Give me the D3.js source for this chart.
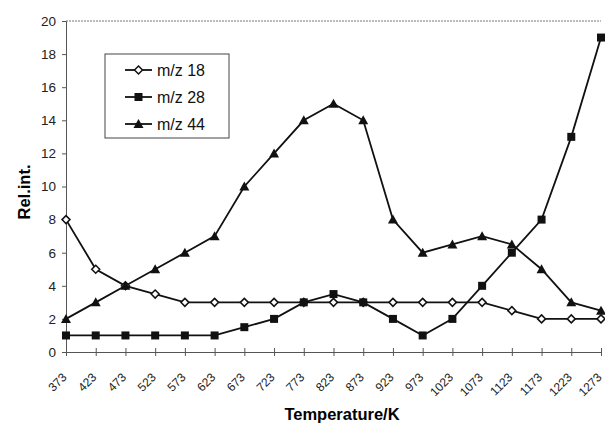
<!DOCTYPE html>
<html>
<head>
<meta charset="utf-8">
<script src="https://cdn.jsdelivr.net/npm/d3@7"></script>
<style>
  body { margin: 0; background: white; }
  text { font-family: Arial, "Liberation Sans", sans-serif; }
</style>
</head>
<body>
<div id="scene"></div>
<script>
var temps = [373, 423, 473, 523, 573, 623, 673, 723, 773, 823, 873, 923, 973, 1023, 1073, 1123, 1173, 1223, 1273];
var mz18 = [8, 5, 4, 3.5, 3, 3, 3, 3, 3, 3, 3, 3, 3, 3, 3, 2.5, 2, 2, 2];
var mz28 = [1, 1, 1, 1, 1, 1, 1.5, 2, 3, 3.5, 3, 2, 1, 2, 4, 6, 8, 13, 19];
var mz44 = [2, 3, 4, 5, 6, 7, 10, 12, 14, 15, 14, 8, 6, 6.5, 7, 6.5, 5, 3, 2.5];
var seriesNames = ["m/z 18", "m/z 28", "m/z 44"];
var yTicks = [0, 2, 4, 6, 8, 10, 12, 14, 16, 18, 20];

var ctx = { w: 605, h: 427, left: 66, right: 601, top: 21, bottom: 352 };

var svg = d3.select("#scene").append("svg")
  .attr("width", ctx.w).attr("height", ctx.h);

var x = d3.scalePoint().domain(temps).range([ctx.left, ctx.right]);
var y = d3.scaleLinear().domain([0, 20]).range([ctx.bottom, ctx.top]);

// top dotted border
svg.append("line")
  .attr("x1", ctx.left).attr("x2", ctx.right)
  .attr("y1", ctx.top).attr("y2", ctx.top)
  .attr("stroke", "#777").attr("stroke-dasharray", "2,1");

// y axis
var yAxis = svg.append("g").attr("transform", "translate(" + ctx.left + ",0)")
  .call(d3.axisLeft(y).tickValues(yTicks).tickSize(4).tickPadding(6));
yAxis.select(".domain").attr("stroke", "#555");
yAxis.selectAll(".tick line").attr("stroke", "#555");
yAxis.selectAll("text").attr("font-size", 13.5).attr("fill", "#222");

// x axis
var xAxis = svg.append("g").attr("transform", "translate(0," + ctx.bottom + ")")
  .call(d3.axisBottom(x).tickSize(0));
xAxis.select(".domain").attr("stroke", "#555");
xAxis.selectAll(".tick line").attr("y1", -4).attr("y2", 4).attr("stroke", "#555");
xAxis.selectAll("text")
  .attr("font-size", 12).attr("fill", "#222")
  .attr("text-anchor", "end")
  .attr("dy", null).attr("y", 0)
  .attr("transform", "translate(1,26) rotate(-45)");

// axis titles
svg.append("text").attr("x", 342).attr("y", 420)
  .attr("text-anchor", "middle").attr("font-weight", "bold").attr("font-size", 16.5)
  .text("Temperature/K");
svg.append("text")
  .attr("transform", "translate(30,192) rotate(-90)")
  .attr("text-anchor", "middle").attr("font-weight", "bold").attr("font-size", 16.5)
  .text("Rel.int.");

var line = d3.line().x(function(d, i) { return x(temps[i]); }).y(function(d) { return y(d); });
var allSeries = [mz18, mz28, mz44];

allSeries.forEach(function(s) {
  svg.append("path").datum(s).attr("d", line)
    .attr("fill", "none").attr("stroke", "#111").attr("stroke-width", 1.8);
});

function drawMarker(g, kind, cx, cy) {
  if (kind === 0) {
    g.append("path")
      .attr("d", "M" + cx + "," + (cy - 4) + "L" + (cx + 4) + "," + cy + "L" + cx + "," + (cy + 4) + "L" + (cx - 4) + "," + cy + "Z")
      .attr("fill", "white").attr("stroke", "#111").attr("stroke-width", 1.5);
  } else if (kind === 1) {
    g.append("rect").attr("x", cx - 4).attr("y", cy - 4).attr("width", 8).attr("height", 8)
      .attr("fill", "#111");
  } else {
    g.append("path")
      .attr("d", "M" + cx + "," + (cy - 5) + "L" + (cx + 5) + "," + (cy + 4) + "L" + (cx - 5) + "," + (cy + 4) + "Z")
      .attr("fill", "#111");
  }
}

var marks = svg.append("g");
allSeries.forEach(function(s, k) {
  s.forEach(function(v, i) { drawMarker(marks, k, x(temps[i]), y(v)); });
});

// legend
var lg = svg.append("g");
lg.append("rect").attr("x", 105).attr("y", 54).attr("width", 124).attr("height", 84)
  .attr("fill", "white").attr("stroke", "#444").attr("stroke-width", 1);
seriesNames.forEach(function(name, k) {
  var ly = 70 + k * 27;
  lg.append("line").attr("x1", 125).attr("x2", 152).attr("y1", ly).attr("y2", ly)
    .attr("stroke", "#111").attr("stroke-width", 1.8);
  drawMarker(lg, k, 138.5, ly);
  lg.append("text").attr("x", 157).attr("y", ly + 6).attr("font-size", 16).attr("fill", "#111").text(name);
});
</script>
</body>
</html>
